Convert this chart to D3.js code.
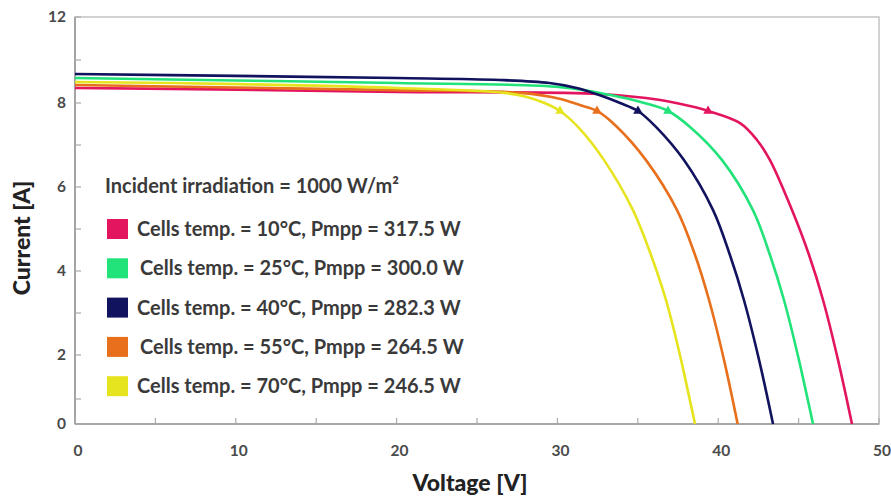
<!DOCTYPE html>
<html>
<head>
<meta charset="utf-8">
<script src="https://cdn.jsdelivr.net/npm/d3@7"></script>
<style>
  html, body { margin: 0; padding: 0; background: #fff; }
  svg { display: block; }
  .tick-label { font-family: Lato, "Open Sans", sans-serif; font-weight: 700; font-size: 15.5px; fill: #4a4a4a; }
  .axis-title { font-family: Lato, "Open Sans", sans-serif; font-weight: 900; font-size: 23px; fill: #222; }
  .legend-text { font-family: Lato, "Open Sans", sans-serif; font-weight: 700; font-size: 20px; fill: #3a3a3a; }
</style>
</head>
<body>
<svg width="891" height="501"></svg>
<script>
// series labels
var temps = [10, 25, 40, 55, 70];
var pmpp = ["317.5", "300.0", "282.3", "264.5", "246.5"];
var colors = ["#e3155f", "#22e27a", "#12135f", "#e8701c", "#e6e41e"];

// I-V curves, [voltage V, current A]
var curve10 = [[0, 8.70], [10, 8.62], [20, 8.51], [32.6, 8.42], [36.4, 8.14], [38.2, 7.93], [39.37, 7.81], [41.36, 7.52], [42.41, 7.12], [43.22, 6.64], [44.59, 5.45], [45.65, 4.38], [46.52, 3.31], [47.45, 1.89], [48.32, 0]];
var curve25 = [[0, 9.16], [10, 9.05], [20, 8.93], [30.2, 8.74], [33.3, 8.37], [35.4, 8.0], [36.88, 7.81], [38.25, 7.43], [40.24, 6.64], [42.16, 5.45], [43.22, 4.38], [44.09, 3.31], [45.02, 1.89], [45.90, 0]];
var curve40 = [[0, 9.35], [10, 9.26], [20, 9.16], [26.4, 9.07], [29.5, 8.93], [31.2, 8.70], [32.6, 8.37], [33.9, 8.0], [35.01, 7.81], [36.13, 7.43], [37.87, 6.64], [39.68, 5.45], [40.73, 4.38], [41.60, 3.31], [42.54, 1.89], [43.41, 0]];
var curve55 = [[0, 8.84], [10, 8.72], [20, 8.60], [27.7, 8.47], [30.2, 8.19], [31.4, 7.95], [32.46, 7.81], [33.71, 7.43], [35.51, 6.64], [37.44, 5.45], [38.56, 4.38], [39.43, 3.31], [40.36, 1.89], [41.21, 0]];
var curve70 = [[0, 8.98], [10.1, 8.88], [20, 8.70], [26.7, 8.47], [28.1, 8.28], [29.2, 8.0], [30.16, 7.81], [31.28, 7.43], [32.90, 6.64], [34.70, 5.45], [35.82, 4.38], [36.75, 3.31], [37.69, 1.89], [38.56, 0]];
var curves = [curve10, curve25, curve40, curve55, curve70];

// maximum power points
var mppV = [39.37, 36.88, 35.01, 32.46, 30.16];
var mppI = [7.81, 7.81, 7.81, 7.81, 7.81];

// ticks
var xTicks = [0, 5, 10, 15, 20, 25, 30, 35, 40, 45, 50];
var xLabels = [0, 10, 20, 30, 40, 50];
var yTicks = [0, 1, 2, 3, 4, 5, 6, 7, 8, 10, 12];
var yLabels = [0, 2, 4, 6, 8, 12];

var plotLeft = 75, plotRight = 879, plotTop = 17, plotBottom = 424;

var svg = d3.select("svg");

var xScale = d3.scaleLinear()
  .domain([0, 50])
  .range([plotLeft, plotRight]);

// the printed y axis is not evenly spaced, so a piecewise scale follows its labels
var yScale = d3.scaleLinear()
  .domain([0, 1, 2, 8, 12])
  .range([plotBottom, plotBottom - 25, plotBottom - 69, plotBottom - 321, plotTop]);

// frame
svg.append("rect")
  .attr("x", plotLeft)
  .attr("y", plotTop)
  .attr("width", plotRight - plotLeft)
  .attr("height", plotBottom - plotTop)
  .attr("fill", "none")
  .attr("stroke", "#c4c4c4")
  .attr("stroke-width", 1.5);

// axis lines
svg.append("line")
  .attr("x1", plotLeft).attr("x2", plotLeft)
  .attr("y1", plotTop).attr("y2", plotBottom)
  .attr("stroke", "#999").attr("stroke-width", 1.6);
svg.append("line")
  .attr("x1", plotLeft).attr("x2", plotRight)
  .attr("y1", plotBottom).attr("y2", plotBottom)
  .attr("stroke", "#999").attr("stroke-width", 1.6);

// tick marks (drawn inside the frame)
svg.selectAll(".xtick")
  .data(xTicks)
  .enter().append("line")
  .attr("class", "xtick")
  .attr("x1", function(d) { return xScale(d); })
  .attr("x2", function(d) { return xScale(d); })
  .attr("y1", plotBottom)
  .attr("y2", plotBottom - 6)
  .attr("stroke", "#aaa")
  .attr("stroke-width", 1.2);

svg.selectAll(".ytick")
  .data(yTicks)
  .enter().append("line")
  .attr("class", "ytick")
  .attr("x1", plotLeft)
  .attr("x2", plotLeft + 6)
  .attr("y1", function(d) { return yScale(d); })
  .attr("y2", function(d) { return yScale(d); })
  .attr("stroke", "#aaa")
  .attr("stroke-width", 1.2);

svg.selectAll(".xlabel")
  .data(xLabels)
  .enter().append("text")
  .attr("class", "tick-label")
  .attr("x", function(d) { return xScale(d) + 3; })
  .attr("y", plotBottom + 32)
  .attr("text-anchor", "middle")
  .text(function(d) { return d; });

svg.selectAll(".ylabel")
  .data(yLabels)
  .enter().append("text")
  .attr("class", "tick-label")
  .attr("x", plotLeft - 9)
  .attr("y", function(d) { return yScale(d); })
  .attr("dy", "0.35em")
  .attr("text-anchor", "end")
  .text(function(d) { return d; });

// axis titles
svg.append("text")
  .attr("class", "axis-title")
  .attr("x", 470)
  .attr("y", 491)
  .attr("text-anchor", "middle")
  .text("Voltage [V]");

svg.append("text")
  .attr("class", "axis-title")
  .attr("transform", "translate(30,238) rotate(-90)")
  .attr("text-anchor", "middle")
  .text("Current [A]");

// curves
var line = d3.line()
  .x(function(d) { return xScale(d[0]); })
  .y(function(d) { return yScale(d[1]); })
  .curve(d3.curveCatmullRom.alpha(0.5));

svg.selectAll(".curve")
  .data(curves)
  .enter().append("path")
  .attr("class", "curve")
  .attr("d", line)
  .attr("fill", "none")
  .attr("stroke", function(d, i) { return colors[i]; })
  .attr("stroke-width", 2.6);

// mpp markers
svg.selectAll(".mpp")
  .data(mppV)
  .enter().append("path")
  .attr("class", "mpp")
  .attr("d", d3.symbol().type(d3.symbolTriangle).size(40))
  .attr("transform", function(d, i) {
    return "translate(" + xScale(d) + "," + yScale(mppI[i]) + ")";
  })
  .attr("fill", function(d, i) { return colors[i]; });

// legend
svg.append("text")
  .attr("class", "legend-text")
  .attr("x", 105)
  .attr("y", 186)
  .attr("dy", "0.35em")
  .text("Incident irradiation = 1000 W/m²");

var legend = svg.selectAll(".legend")
  .data(temps)
  .enter().append("g")
  .attr("class", "legend")
  .attr("transform", function(d, i) { return "translate(107," + (229 + i * 39.3) + ")"; });

legend.append("rect")
  .attr("x", 0)
  .attr("y", -10)
  .attr("width", 21)
  .attr("height", 20)
  .attr("fill", function(d, i) { return colors[i]; });

legend.append("text")
  .attr("class", "legend-text")
  .attr("x", function(d, i) { return i == 1 || i == 3 ? 33 : 30; })
  .attr("y", 0)
  .attr("dy", "0.35em")
  .text(function(d, i) { return "Cells temp. = " + d + "°C, Pmpp = " + pmpp[i] + " W"; });
</script>
</body>
</html>
